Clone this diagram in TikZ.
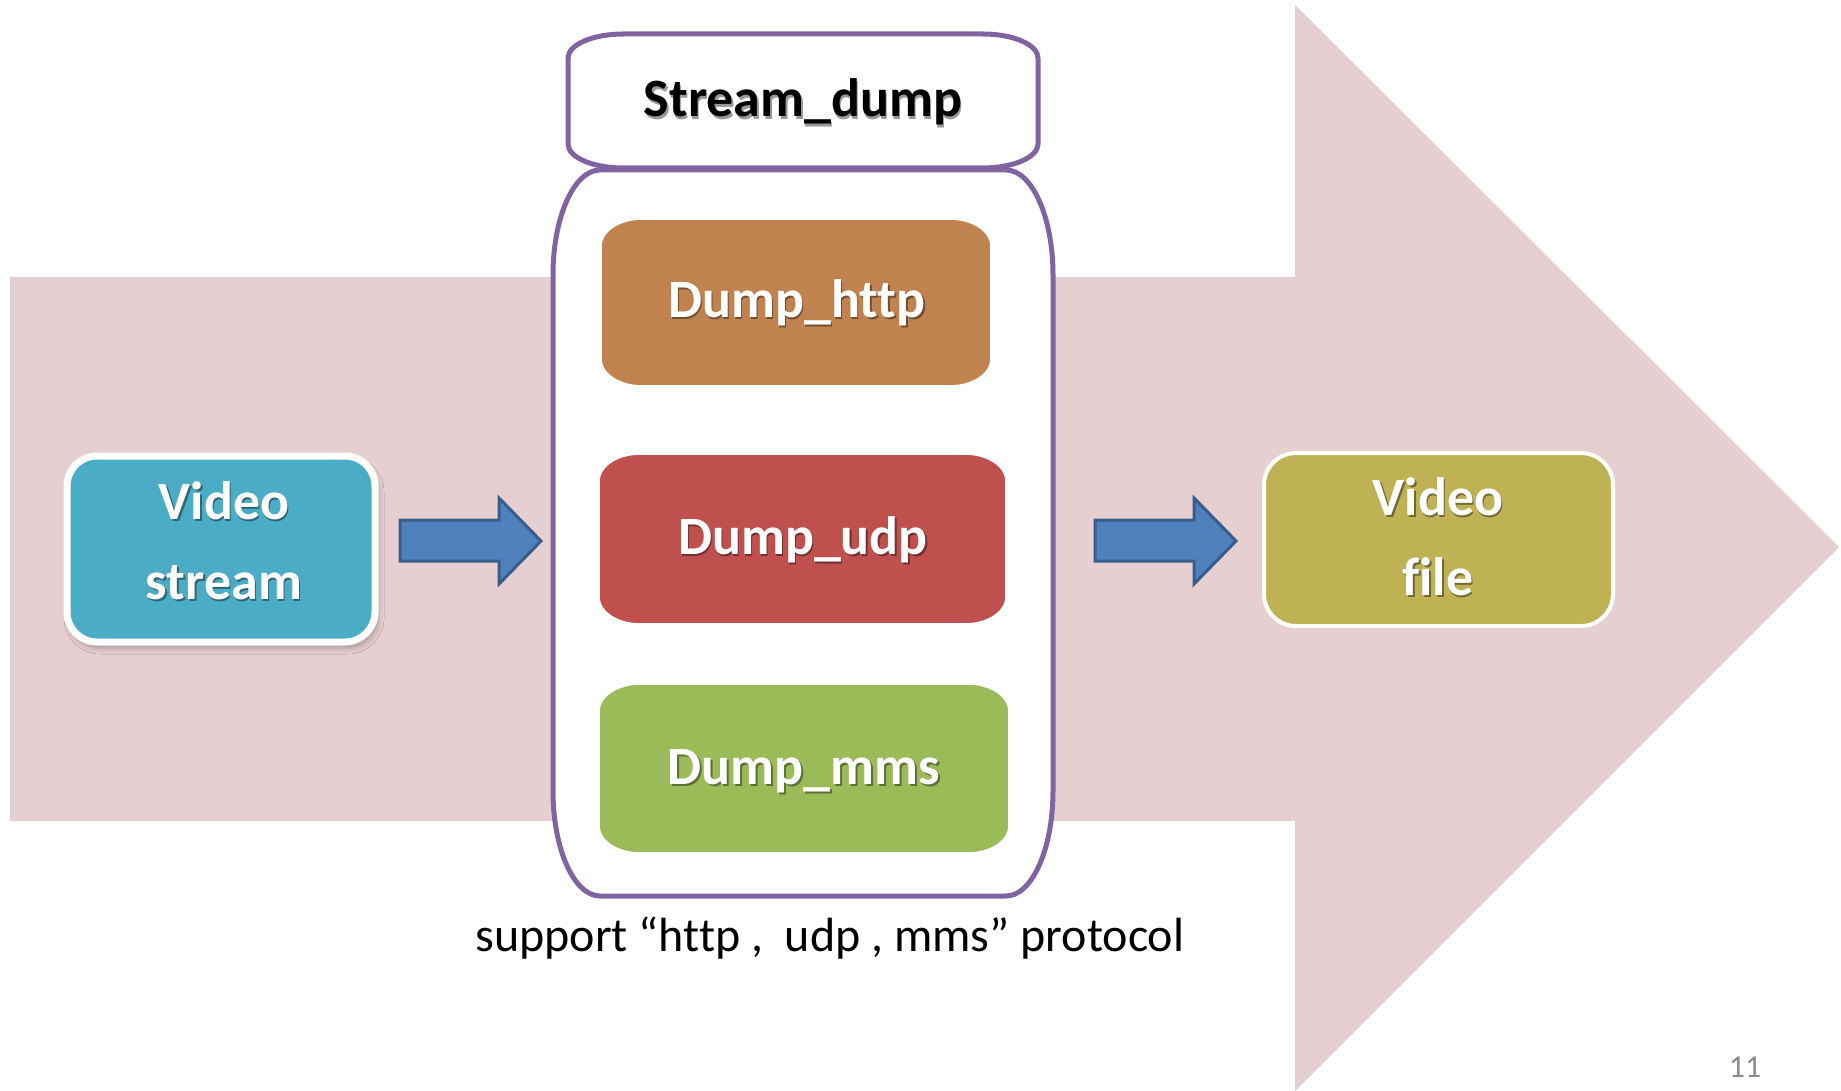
\documentclass[tikz,border=0pt]{standalone}
\usepackage{fontspec}
\setmainfont{Carlito}[Ligatures=NoCommon]
\usetikzlibrary{shadows.blur}

\definecolor{bandpink}{HTML}{E6CFD0}
\definecolor{framepurple}{HTML}{8064A2}
\definecolor{httpbrown}{HTML}{C08350}
\definecolor{udpred}{HTML}{C0504D}
\definecolor{mmsgreen}{HTML}{9BBB59}
\definecolor{streamblue}{HTML}{4BACC6}
\definecolor{fileolive}{HTML}{BFB255}
\definecolor{arrowfill}{HTML}{4F81BD}
\definecolor{arrowline}{HTML}{385D8A}
\definecolor{pagegray}{HTML}{8C8C8C}

% rectangle (x1,y1)-(x2,y2) with elliptical corners of radii rx, ry
\newcommand\rrpath[6]{(#1+#5,#2) -- (#3-#5,#2)
  .. controls ({#3-0.448*#5},#2) and (#3,{#2+0.448*#6}) .. (#3,#2+#6)
  -- (#3,#4-#6)
  .. controls (#3,{#4-0.448*#6}) and ({#3-0.448*#5},#4) .. (#3-#5,#4)
  -- (#1+#5,#4)
  .. controls ({#1+0.448*#5},#4) and (#1,{#4-0.448*#6}) .. (#1,#4-#6)
  -- (#1,#2+#6)
  .. controls (#1,{#2+0.448*#6}) and ({#1+0.448*#5},#2) .. cycle}

% label with a soft drop shadow: name, x, y (baseline), text, colour
\newcommand\shlabel[5]{%
  \node[boxfont, text=black, opacity=.4] at (#2+1.5,#3+2.5) {#4};
  \node[boxfont, text=#5] (#1) at (#2,#3) {#4};}

\tikzset{
  boxfont/.style={font=\bfseries\fontsize{27}{32}\selectfont, anchor=base, inner sep=0pt},
  frame/.style={fill=white, draw=framepurple, line width=2.5pt},
  stage/.style={draw=white, line width=1.8pt},
  blockarrow/.style={fill=arrowfill, draw=arrowline, line width=1.5pt, line join=miter},
}

\begin{document}
\begin{tikzpicture}[x=0.5pt,y=-0.5pt]
\useasboundingbox (0,0) rectangle (1841,1091);
\fill[white] (0,0) rectangle (1841,1091);

% large background arrow
\fill[bandpink] (10,277) -- (1295,277) -- (1295,5) -- (1839,547)
  -- (1295,1091) -- (1295,821) -- (10,821) -- cycle;

% Stream_dump container and its header
\path[frame] \rrpath{553}{170}{1053}{896}{47}{105};
\path[frame] \rrpath{568}{34}{1038}{168}{55}{24};

% protocol stages
\path[stage, fill=httpbrown] \rrpath{600}{218}{992}{387}{42}{28};
\path[stage, fill=udpred]    \rrpath{598}{453}{1007}{625}{42}{28};
\path[stage, fill=mmsgreen]  \rrpath{598}{683}{1010}{854}{42}{28};

% input and output boxes
\path[draw=white, line width=3.5pt, fill=streamblue,
  blur shadow={shadow xshift=1.5pt, shadow yshift=-3pt, shadow opacity=28, shadow blur radius=3pt}]
  \rrpath{67}{456}{375}{642}{30}{30};
\path[draw=white, line width=2pt, fill=fileolive] \rrpath{1264}{453}{1613}{626}{32}{32};

% block arrows
\path[blockarrow] (400,520) -- (499,520) -- (499,498) -- (541,541)
  -- (499,584) -- (499,561) -- (400,561) -- cycle;
\path[blockarrow] (1095,520) -- (1194,520) -- (1194,498) -- (1236,541)
  -- (1194,584) -- (1194,561) -- (1095,561) -- cycle;

% labels
\shlabel{sd}{803}{117}{Stream\_dump}{black}
\shlabel{http}{797}{317}{Dump\_http}{white}
\shlabel{udp}{803}{554}{Dump\_udp}{white}
\shlabel{mms}{804}{784}{Dump\_mms}{white}
\shlabel{vs1}{224}{519}{Video}{white}
\shlabel{vs2}{224}{599}{stream}{white}
\shlabel{vf1}{1438}{515}{Video}{white}
\shlabel{vf2}{1438}{595}{file}{white}

\node[font=\fontsize{24}{28}\selectfont, anchor=base, inner sep=0pt] (note)
  at (830,951) {support “http ,~ udp , mms” protocol};
\node[font=\fontsize{16}{18}\selectfont, text=pagegray, anchor=base, inner sep=0pt] (page)
  at (1745,1077) {11};
\end{tikzpicture}
\end{document}
